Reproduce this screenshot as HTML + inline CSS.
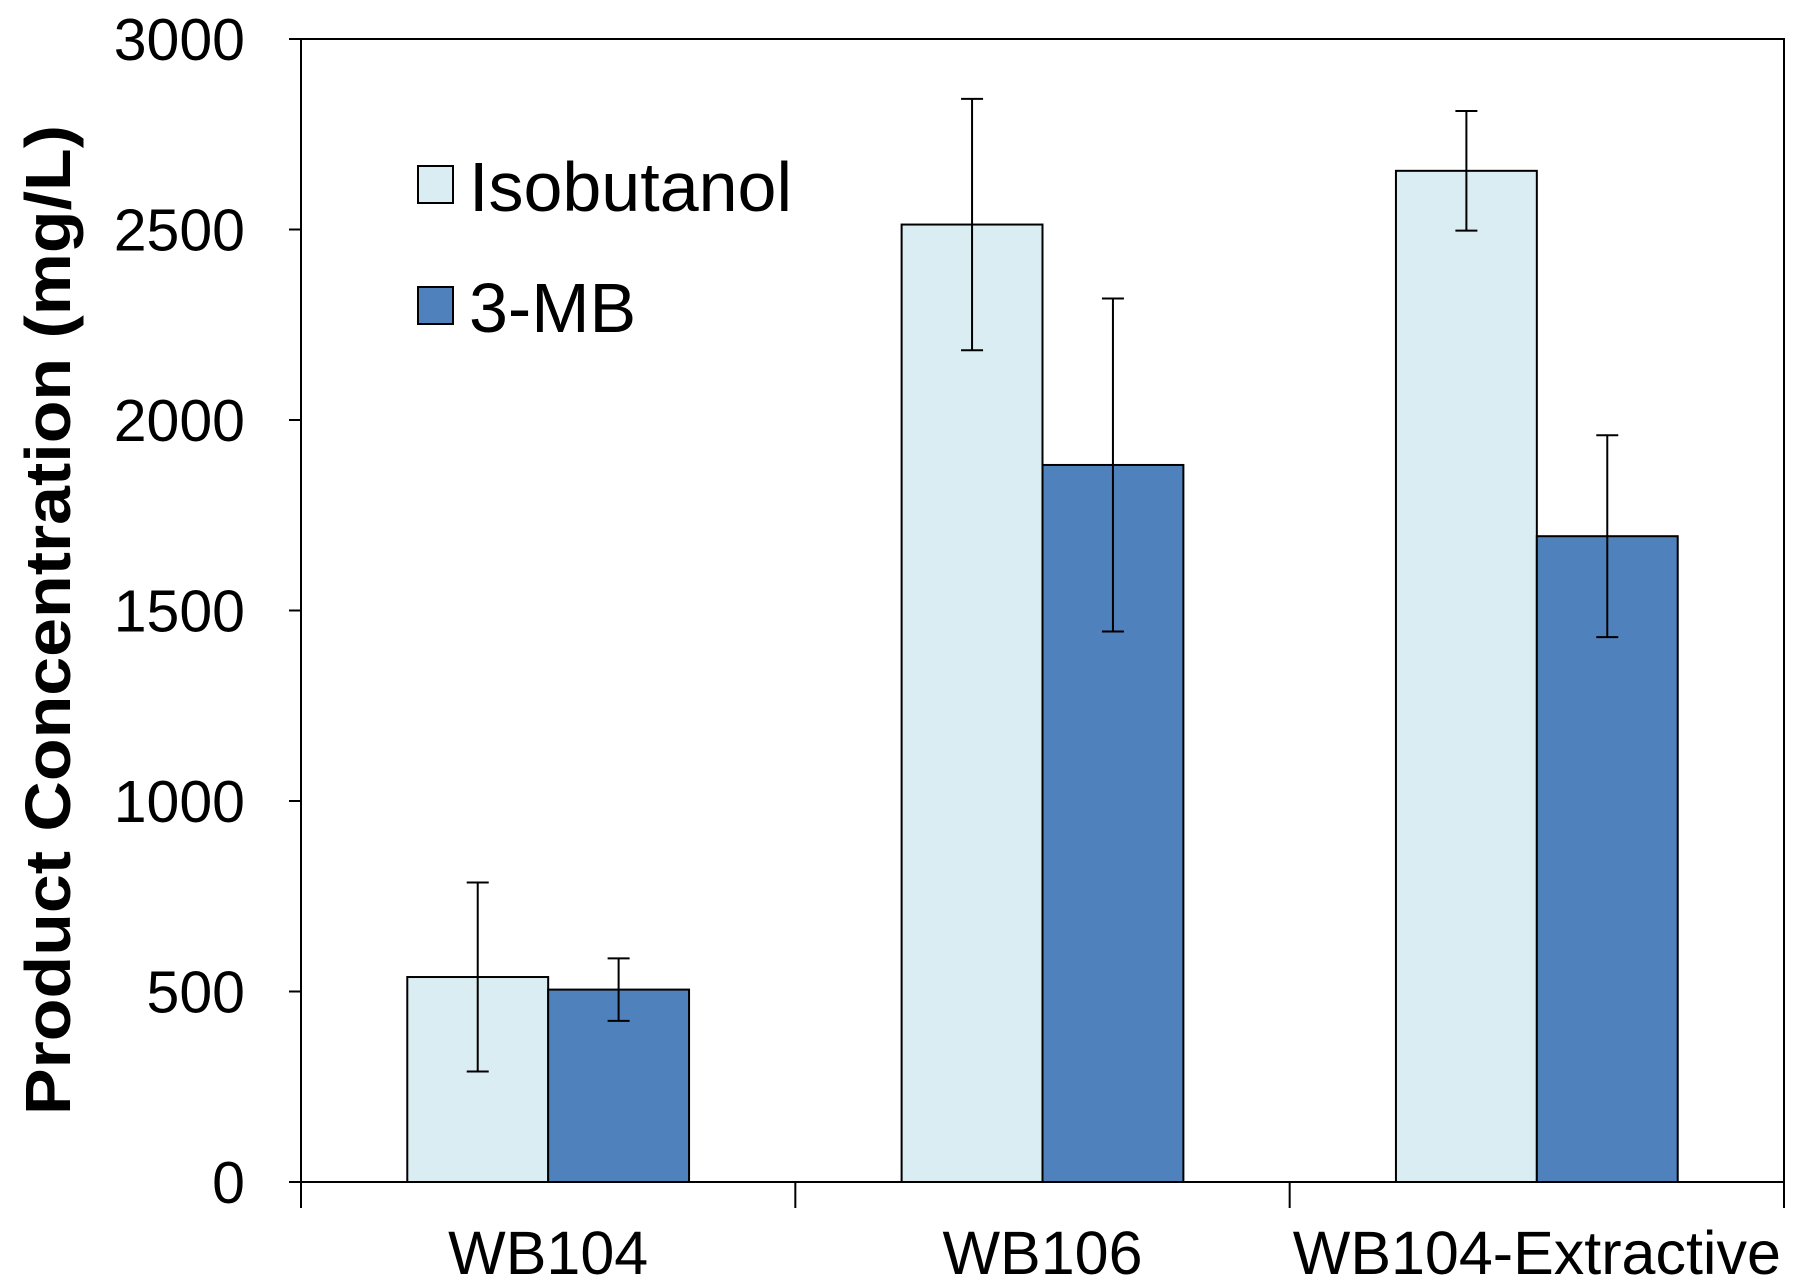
<!DOCTYPE html>
<html><head><meta charset="utf-8"><style>
body{margin:0;background:#fff}
svg{display:block;font-family:"Liberation Sans",Arial,sans-serif}
</style></head><body>
<svg id="chart" width="1800" height="1288" viewBox="0 0 1800 1288">
<g id="plot"></g>
</svg>
<script>
const categories = ["WB104", "WB106", "WB104-Extractive"];
const isoValues = [538, 2513, 2654];
const isoErrors = [248, 330, 157];
const mbValues = [505, 1882, 1695];
const mbErrors = [82, 437, 265];
const yTicks = [0, 500, 1000, 1500, 2000, 2500, 3000];
const seriesNames = ["Isobutanol", "3-MB"];

const NS = "http://www.w3.org/2000/svg";
const L = 301, R = 1784, T = 39, B = 1182, YMAX = 3000;
const catW = (R - L) / categories.length;
const barW = catW * 0.285;
const y = v => B - (v / YMAX) * (B - T);
const xCenter = i => L + catW * (i + 0.5);
const g = document.getElementById("plot");
function mk(tag, attrs, parent) {
  const e = document.createElementNS(NS, tag);
  for (const k in attrs) e.setAttribute(k, attrs[k]);
  (parent || g).appendChild(e);
  return e;
}
const frame = mk("rect", {x: L, y: T, width: R - L, height: B - T, fill: "none", stroke: "#000", "stroke-width": 2});


yTicks.forEach(v => {
  const t = mk("line", {x1: L - 12, x2: L, y1: y(v), y2: y(v), stroke: "#000", "stroke-width": 2});
  
  
  const tx = mk("text", {x: 245, y: y(v) + 21, "text-anchor": "end", "font-size": 59});
  tx.textContent = v;
  
  
});
for (let i = 0; i <= categories.length; i++) {
  const t = mk("line", {x1: L + catW * i, x2: L + catW * i, y1: B, y2: B + 26, stroke: "#000", "stroke-width": 2});
  
  
}
categories.forEach((c, i) => {
  const tx = mk("text", {x: xCenter(i), y: 1274, "text-anchor": "middle", "font-size": 61});
  tx.textContent = c;
  
  
});
function bar(x0, v, err, fill, name) {
  const r = mk("rect", {x: x0, y: y(v), width: barW, height: B - y(v), fill: fill, stroke: "#000", "stroke-width": 2});
  
  
  const cx = x0 + barW / 2;
  const eg = mk("g", {stroke: "#000", "stroke-width": 2});
  
  
  mk("line", {x1: cx, x2: cx, y1: y(v + err), y2: y(v - err)}, eg);
  mk("line", {x1: cx - 11, x2: cx + 11, y1: y(v + err), y2: y(v + err)}, eg);
  mk("line", {x1: cx - 11, x2: cx + 11, y1: y(v - err), y2: y(v - err)}, eg);
}
categories.forEach((c, i) => {
  bar(xCenter(i) - barW, isoValues[i], isoErrors[i], "#daedf3", "bar-isobutanol");
  bar(xCenter(i), mbValues[i], mbErrors[i], "#4f81bd", "bar-3mb");
});
const fills = ["#daedf3", "#4f81bd"];
const ly = [166, 287];
seriesNames.forEach((s, i) => {
  const lg = mk("g", {});
  
  
  mk("rect", {x: 418, y: ly[i], width: 35, height: 37, fill: fills[i], stroke: "#000", "stroke-width": 2}, lg);
  const t = mk("text", {x: 469, y: ly[i] + 45, "font-size": 70}, lg);
  t.textContent = s;
});
const yt = mk("text", {x: 0, y: 0, transform: "translate(70,620) rotate(-90)", "text-anchor": "middle", "font-size": 64, "font-weight": "bold", textLength: 990, lengthAdjust: "spacingAndGlyphs"});
yt.textContent = "Product Concentration (mg/L)";


</script>
</body></html>
